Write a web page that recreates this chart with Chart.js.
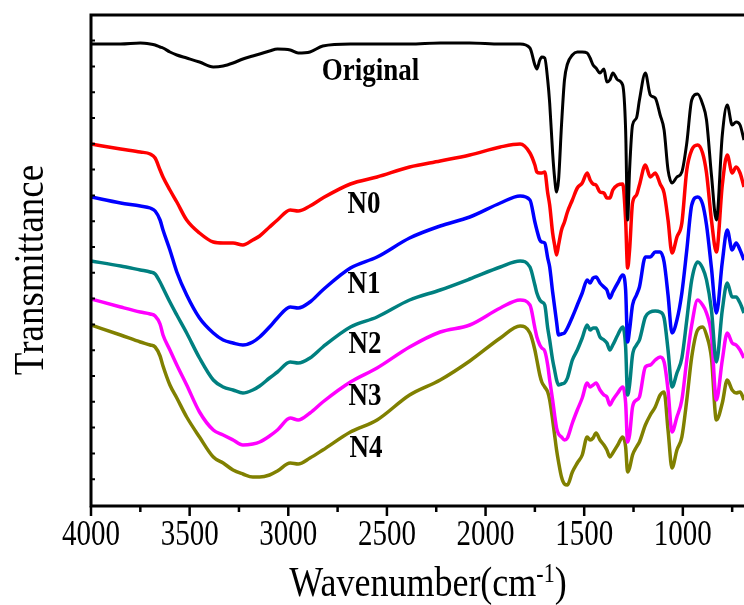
<!DOCTYPE html>
<html>
<head>
<meta charset="utf-8">
<script src="https://cdn.jsdelivr.net/npm/chart.js@4.4.1/dist/chart.umd.min.js"></script>
<style>
  html, body { margin: 0; padding: 0; background: #fff; }
  canvas { display: block; }
</style>
</head>
<body>
<canvas id="ftir" width="744" height="605" style="width:744px;height:605px"></canvas>
<script>
// Wavenumber (cm-1) sampling points
const wavenumber = [4000,3850,3750,3700,3675,3650,3635,3600,3565,3515,
  3450,3380,3330,3280,3230,3180,3145,3095,3055,2990,
  2950,2890,2825,2685,2550,2385,2230,2080,1925,1825,
  1775,1750,1740,1725,1715,1700,1685,1675,1660,1650,
  1640,1630,1615,1600,1585,1560,1535,1510,1485,1470,
  1455,1440,1420,1400,1385,1370,1355,1330,1305,1290,
  1280,1270,1255,1235,1220,1190,1165,1140,1115,1095,
  1075,1055,1030,1005,980,955,925,900,880,855,
  830,800,775,750,730,710,690];

// Transmittance (arbitrary units, stacked/offset spectra)
const original = [461,461,462,461,460,458,457,453,450,447,
  443,438,439,442,446,449,451,454,456,455,
  452,453,459,461,461,461,462,462,461,461,
  457,440,436,445,448,447,425,402,352,327,
  313,325,380,425,441,450,453,453,452,447,
  440,437,432,436,423,425,432,425,420,375,
  285,335,380,387,405,432,410,407,390,375,
  335,322,328,333,362,405,411,401,385,330,
  285,370,400,380,383,380,365];

const n0 = [361,356,353,351,347,335,328,315,303,285,
  272,263,262,262,260,265,269,278,285,295,
  294,299,307,321,328,338,344,350,358,361,
  352,340,333,332,332,333,312,300,272,260,
  250,260,275,283,293,305,317,322,332,325,
  321,320,313,312,307,307,315,320,321,285,
  237,255,302,310,320,340,328,332,321,312,
  285,252,268,282,335,355,360,352,332,285,
  253,320,350,332,338,332,318];

const n1 = [308,302,299,297,294,285,275,255,233,210,
  187,172,165,162,160,163,168,178,187,198,
  197,203,215,237,248,267,279,288,302,309,
  305,283,275,265,263,262,247,238,213,198,
  183,170,171,172,177,188,200,212,225,222,
  227,228,222,218,215,207,213,222,230,215,
  163,175,200,210,218,248,248,253,253,243,
  210,172,185,212,255,300,308,301,280,237,
  192,243,275,255,262,255,245];

const n2 = [244,239,235,233,231,223,217,203,190,172,
  147,125,118,115,112,115,119,127,133,143,
  142,147,158,178,188,205,215,226,238,244,
  238,220,212,205,203,200,177,165,145,135,
  125,120,121,122,127,145,155,167,180,175,
  177,177,168,165,162,155,160,170,178,158,
  110,120,150,160,165,188,193,194,193,187,
  155,118,132,147,185,225,243,237,225,195,
  143,195,222,208,208,202,192];

const n3 = [206,198,193,191,189,181,170,155,140,120,
  93,75,70,65,60,61,63,69,75,87,
  85,92,103,123,137,158,173,180,197,205,
  200,177,168,160,157,154,140,125,105,90,
  77,71,68,65,67,82,95,107,122,118,
  120,122,115,110,108,100,105,112,118,102,
  63,70,98,105,108,138,140,145,148,143,
  115,73,88,105,145,180,205,200,192,170,
  105,145,172,162,160,155,147];

const n4 = [180,170,163,160,158,149,139,120,107,88,
  68,48,42,35,31,28,28,30,34,42,
  41,47,55,73,85,110,125,144,167,179,
  172,155,145,130,123,118,113,105,85,70,
  55,43,28,21,20,33,42,50,68,65,
  67,72,65,60,55,48,52,60,68,58,
  33,37,50,58,63,80,90,98,110,113,
  75,37,55,68,105,148,175,178,170,147,
  85,102,125,115,112,113,105];

const seriesNames = ['Original', 'N0', 'N1', 'N2', 'N3', 'N4'];
const seriesValues = [original, n0, n1, n2, n3, n4];
const seriesColors = ['#000000', '#ff0000', '#0000ff', '#008080', '#ff00ff', '#808000'];

// axis ticks
const xMajorTicks = [4000, 3500, 3000, 2500, 2000, 1500, 1000];
const xMinorTicks = [3750, 3250, 2750, 2250, 1750, 1250, 750];
const yTickStep = 25.8;

// curve labels anchored in data coordinates (wavenumber, transmittance)
const curveLabels = [
  { text: 'Original', x: 2830, y: 425 },
  { text: 'N0', x: 2700, y: 292 },
  { text: 'N1', x: 2700, y: 212 },
  { text: 'N2', x: 2695, y: 152 },
  { text: 'N3', x: 2695, y: 100 },
  { text: 'N4', x: 2690, y: 48 }
];

const SERIF = '"Liberation Serif", "Times New Roman", serif';

function tallText(ctx, txt, px, py, sy) {
  ctx.save();
  ctx.translate(px, py);
  ctx.scale(1, sy);
  ctx.fillText(txt, 0, 0);
  ctx.restore();
}

// frame, ticks, axis titles and curve labels
const framePlugin = {
  id: 'framePlugin',
  afterDatasetsDraw(chart) {
    const { ctx, chartArea: a, scales: { x, y } } = chart;
    ctx.save();
    ctx.strokeStyle = '#000';
    ctx.fillStyle = '#000';

    // box (right side is cut off in the original)
    ctx.lineWidth = 3;
    ctx.beginPath();
    ctx.moveTo(a.right + 2, a.top);
    ctx.lineTo(a.left, a.top);
    ctx.lineTo(a.left, a.bottom + 1);
    ctx.lineTo(a.right + 2, a.bottom + 1);
    ctx.stroke();

    // bottom ticks, outward
    ctx.lineWidth = 2.5;
    ctx.beginPath();
    xMajorTicks.forEach(v => {
      const px = x.getPixelForValue(v);
      ctx.moveTo(px, a.bottom + 1);
      ctx.lineTo(px, a.bottom + 11);
    });
    xMinorTicks.forEach(v => {
      const px = x.getPixelForValue(v);
      if (px > a.right) return;
      ctx.moveTo(px, a.bottom + 1);
      ctx.lineTo(px, a.bottom + 7);
    });
    ctx.stroke();

    // left ticks, inward
    ctx.lineWidth = 2;
    ctx.beginPath();
    for (let v = yTickStep; v < y.max - 10; v += yTickStep) {
      const py = y.getPixelForValue(v);
      ctx.moveTo(a.left, py);
      ctx.lineTo(a.left + 4, py);
    }
    ctx.stroke();

    // tick labels
    ctx.font = '29px ' + SERIF;
    ctx.textAlign = 'center';
    ctx.textBaseline = 'alphabetic';
    xMajorTicks.forEach(v => {
      tallText(ctx, String(v), x.getPixelForValue(v), a.bottom + 40, 1.2);
    });

    // x axis title with superscript
    const cx = (a.left + 765) / 2;
    const base = a.bottom + 91;
    ctx.textAlign = 'left';
    const bigFont = '36px ' + SERIF;
    const supFont = '22px ' + SERIF;
    ctx.font = bigFont;
    const w1 = ctx.measureText('Wavenumber(cm').width;
    const w3 = ctx.measureText(')').width;
    ctx.font = supFont;
    const w2 = ctx.measureText('-1').width;
    let sx = cx - (w1 + w2 + w3) / 2;
    ctx.save();
    ctx.translate(0, base);
    ctx.scale(1, 1.2);
    ctx.font = bigFont;
    ctx.fillText('Wavenumber(cm', sx, 0);
    ctx.font = supFont;
    ctx.fillText('-1', sx + w1, -12);
    ctx.font = bigFont;
    ctx.fillText(')', sx + w1 + w2, 0);
    ctx.restore();

    // y axis title
    ctx.save();
    ctx.font = '37px ' + SERIF;
    ctx.textAlign = 'center';
    ctx.translate(43, (a.top + a.bottom) / 2 + 10);
    ctx.rotate(-Math.PI / 2);
    ctx.scale(1, 1.12);
    ctx.fillText('Transmittance', 0, 0);
    ctx.restore();

    // curve labels
    ctx.font = 'bold 27px ' + SERIF;
    ctx.textAlign = 'left';
    curveLabels.forEach(l => {
      tallText(ctx, l.text, x.getPixelForValue(l.x), y.getPixelForValue(l.y), 1.17);
    });

    ctx.restore();
  }
};

new Chart(document.getElementById('ftir'), {
  type: 'line',
  data: {
    datasets: seriesNames.map((name, i) => ({
      label: name,
      data: wavenumber.map((w, k) => ({ x: w, y: seriesValues[i][k] })),
      borderColor: seriesColors[i],
      borderWidth: i === 0 ? 3 : 3.5,
      pointRadius: 0,
      fill: false,
      cubicInterpolationMode: 'monotone'
    }))
  },
  options: {
    responsive: false,
    animation: false,
    layout: { padding: { left: 91, right: 0, top: 15, bottom: 100 } },
    plugins: {
      legend: { display: false },
      tooltip: { enabled: false }
    },
    scales: {
      x: { type: 'linear', reverse: true, min: 690, max: 4000, display: false },
      y: { min: 0, max: 490, display: false }
    }
  },
  plugins: [framePlugin]
});
</script>
</body>
</html>
